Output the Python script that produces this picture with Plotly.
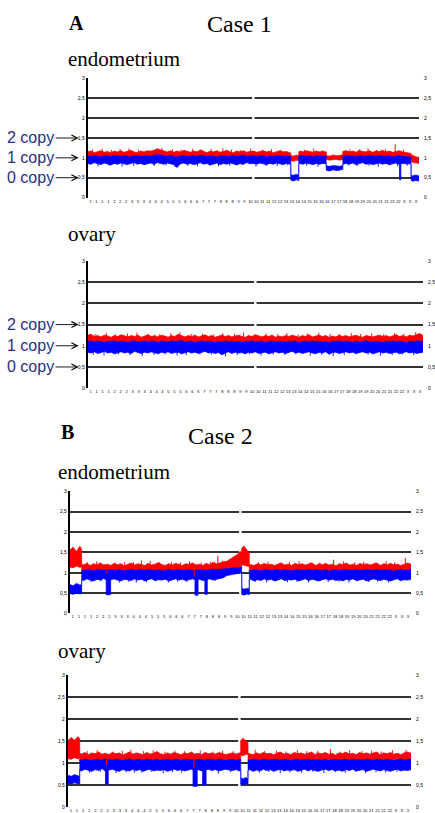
import plotly.graph_objects as go

RED = "#ff0000"
BLUE = "#0000ff"
LABEL_BLUE = "#27307e"
GRID = "#333333"
SERIF = "Liberation Serif"
SANS = "Liberation Sans"

# ---------------- tick labels ----------------
Y_TICKS = [0, 0.5, 1, 1.5, 2, 2.5, 3]
Y_TICK_TEXT = ["0", "0,5", "1", "1,5", "2", "2,5", "3"]
CHROM_TICK_TEXT = ["1", "1", "1", "1", "2", "2", "2", "3", "3", "3", "4", "4", "4", "5", "5",
                   "5", "6", "6", "6", "7", "7", "7", "8", "8", "8", "9", "9", "10", "10", "11",
                   "11", "12", "12", "13", "13", "14", "14", "15", "15", "16", "16", "17", "17",
                   "18", "18", "19", "19", "20", "20", "21", "21", "22", "22", "X", "X", "X"]
COPY_LABELS = ["2 copy", "1 copy", "0 copy"]
COPY_LEVELS = [1.5, 1.0, 0.5]

# ---------------- Case 1, endometrium ----------------
A1_x = (list(range(62)) + [61.3, 61.3, 62, 63, 63.7, 63.7] + list(range(64, 72))
        + [72, 72, 73, 74, 75, 76, 77, 77] + list(range(78, 98)) + [97.6, 97.6, 98, 99, 100])
A1_red_hi = [
    1.15, 1.17, 1.13, 1.16, 1.18, 1.14, 1.16, 1.13, 1.17, 1.15,
    1.18, 1.14, 1.16, 1.19, 1.15, 1.13, 1.17, 1.15, 1.18, 1.16,
    1.19, 1.23, 1.20, 1.17, 1.15, 1.18, 1.14, 1.17, 1.15, 1.19,
    1.16, 1.14, 1.17, 1.15, 1.20, 1.16, 1.13, 1.17, 1.15, 1.18,
    1.14, 1.16, 1.19, 1.15, 1.13, 1.17, 1.15, 1.18, 1.14, 1.16,
    1.17, 1.14, 1.16, 1.18, 1.15, 1.17, 1.13, 1.16, 1.18, 1.15,
    1.16, 1.13,
    1.12, 1.06, 1.04, 1.07, 1.05, 1.14,
    1.17, 1.15, 1.18, 1.16, 1.14, 1.17, 1.15, 1.16,
    1.15, 1.06, 1.04, 1.07, 1.05, 1.06, 1.08, 1.16,
    1.18, 1.15, 1.17, 1.14, 1.19, 1.16, 1.15, 1.18, 1.14, 1.17,
    1.16, 1.19, 1.15, 1.17, 1.14, 1.16, 1.18, 1.15, 1.13, 1.12,
    1.11, 1.08, 1.06, 1.03, 1.00]
A1_red_lo = [
    1.00, 1.01, 0.99, 1.00, 1.02, 1.00, 0.99, 1.01, 1.00, 1.00,
    1.01, 0.99, 1.00, 1.02, 1.00, 1.01, 0.99, 1.00, 1.01, 1.00,
    1.02, 1.04, 1.03, 1.00, 0.99, 1.01, 1.00, 1.00, 1.02, 0.99,
    1.00, 1.01, 1.00, 0.99, 1.02, 1.00, 1.01, 1.00, 0.99, 1.01,
    1.00, 1.02, 1.00, 0.99, 1.01, 1.00, 1.00, 1.02, 0.99, 1.00,
    1.01, 1.00, 0.99, 1.01, 1.00, 1.02, 1.00, 0.99, 1.01, 1.00,
    1.00, 1.01,
    1.00, 0.93, 0.91, 0.94, 0.92, 1.00,
    1.01, 0.99, 1.00, 1.02, 1.00, 0.99, 1.01, 1.00,
    1.00, 0.96, 0.94, 0.95, 0.96, 0.94, 0.95, 1.00,
    1.01, 0.99, 1.00, 1.02, 1.00, 0.99, 1.01, 1.00, 1.00, 1.02,
    0.99, 1.00, 1.01, 1.00, 0.99, 1.01, 1.00, 1.00, 0.99, 0.98,
    0.97, 0.90, 0.88, 0.87, 0.86]
A1_blue_hi = [
    1.05, 1.04, 1.06, 1.05, 1.03, 1.06, 1.05, 1.04, 1.06, 1.05,
    1.04, 1.06, 1.05, 1.03, 1.05, 1.06, 1.04, 1.05, 1.06, 1.04,
    1.06, 1.09, 1.08, 1.05, 1.04, 1.06, 1.05, 1.03, 1.05, 1.06,
    1.04, 1.05, 1.06, 1.04, 1.07, 1.05, 1.04, 1.06, 1.05, 1.03,
    1.05, 1.06, 1.04, 1.05, 1.06, 1.04, 1.05, 1.07, 1.04, 1.05,
    1.06, 1.04, 1.05, 1.06, 1.03, 1.05, 1.04, 1.06, 1.05, 1.04,
    1.05, 1.04,
    1.04, 0.58, 0.56, 0.59, 0.57, 1.04,
    1.05, 1.06, 1.04, 1.05, 1.03, 1.06, 1.05, 1.04,
    1.05, 0.80, 0.79, 0.81, 0.80, 0.79, 0.81, 1.05,
    1.06, 1.04, 1.05, 1.03, 1.06, 1.05, 1.04, 1.06, 1.05, 1.04,
    1.06, 1.05, 1.04, 1.06, 1.03, 1.05, 1.06, 1.04, 1.03, 1.02,
    1.02, 0.56, 0.55, 0.57, 0.55]
A1_blue_lo = [
    0.86, 0.84, 0.88, 0.85, 0.83, 0.87, 0.85, 0.82, 0.86, 0.84,
    0.87, 0.85, 0.83, 0.86, 0.88, 0.84, 0.86, 0.83, 0.85, 0.87,
    0.84, 0.88, 0.86, 0.84, 0.87, 0.85, 0.83, 0.76, 0.85, 0.87,
    0.84, 0.86, 0.83, 0.85, 0.88, 0.84, 0.86, 0.82, 0.85, 0.87,
    0.83, 0.86, 0.84, 0.87, 0.85, 0.82, 0.86, 0.84, 0.88, 0.85,
    0.86, 0.84, 0.87, 0.85, 0.83, 0.86, 0.84, 0.87, 0.85, 0.83,
    0.86, 0.85,
    0.84, 0.44, 0.42, 0.45, 0.43, 0.85,
    0.86, 0.84, 0.87, 0.85, 0.83, 0.86, 0.84, 0.86,
    0.85, 0.69, 0.67, 0.70, 0.68, 0.69, 0.71, 0.84,
    0.86, 0.84, 0.87, 0.83, 0.85, 0.88, 0.84, 0.86, 0.83, 0.85,
    0.87, 0.84, 0.86, 0.83, 0.85, 0.87, 0.84, 0.86, 0.85, 0.84,
    0.85, 0.44, 0.41, 0.43, 0.42]
A1_dip_start = [94.1]
A1_dip_end = [94.5]
A1_dip_low = [0.45]
A1_dip_high = [0.86]
A1_blue_spike_pos = []
A1_blue_spike_low = []
A1_red_spike_pos = [92.8]
A1_red_spike_lo = [1.12]
A1_red_spike_hi = [1.34]
A1_red_noise_pos = [1.5, 4.4, 7.2, 9.8, 12.5, 15.3, 18.9, 22.4, 25.6, 28.2, 31.7, 34.5, 37.3,
                    40.8, 43.4, 46.1, 49.2, 52.7, 55.5, 58.3, 65.4, 68.2, 70.8, 79.1, 81.9,
                    84.6, 87.2, 89.9, 95.3]
A1_red_noise_hi = [1.21, 1.23, 1.20, 1.22, 1.24, 1.21, 1.20, 1.25, 1.22, 1.21, 1.23, 1.20, 1.22,
                   1.24, 1.21, 1.20, 1.23, 1.21, 1.22, 1.20, 1.21, 1.23, 1.20, 1.22, 1.21,
                   1.24, 1.20, 1.22, 1.21]
A1_blue_noise_pos = [3.1, 6.6, 10.4, 13.9, 17.2, 20.1, 23.7, 26.4, 30.2, 33.1, 36.8, 39.5, 42.9,
                     46.6, 50.8, 53.9, 57.2, 60.4, 66.1, 69.5, 78.6, 81.3, 84.9, 87.7, 91.2,
                     93.5, 96.4]
A1_blue_noise_lo = [0.79, 0.81, 0.78, 0.80, 0.82, 0.79, 0.81, 0.77, 0.80, 0.78, 0.81, 0.79, 0.80,
                    0.82, 0.78, 0.80, 0.79, 0.81, 0.80, 0.78, 0.81, 0.79, 0.80, 0.78, 0.81,
                    0.79, 0.80]

# ---------------- Case 1, ovary ----------------
A2_x = list(range(101))
A2_red_hi = [
    1.25, 1.27, 1.22, 1.24, 1.21, 1.25, 1.23, 1.20, 1.24, 1.22,
    1.26, 1.23, 1.21, 1.24, 1.22, 1.25, 1.20, 1.23, 1.26, 1.22,
    1.24, 1.21, 1.25, 1.23, 1.20, 1.24, 1.22, 1.27, 1.23, 1.21,
    1.24, 1.22, 1.25, 1.21, 1.23, 1.26, 1.22, 1.24, 1.20, 1.23,
    1.25, 1.22, 1.24, 1.21, 1.23, 1.25, 1.22, 1.20, 1.24, 1.22,
    1.26, 1.23, 1.21, 1.24, 1.22, 1.25, 1.20, 1.23, 1.21, 1.24,
    1.22, 1.25, 1.23, 1.20, 1.24, 1.22, 1.26, 1.21, 1.23, 1.25,
    1.22, 1.24, 1.20, 1.23, 1.21, 1.25, 1.22, 1.24, 1.21, 1.23,
    1.25, 1.22, 1.20, 1.24, 1.22, 1.21, 1.23, 1.25, 1.22, 1.24,
    1.21, 1.23, 1.26, 1.22, 1.24, 1.21, 1.25, 1.23, 1.26, 1.29,
    1.24]
A2_red_lo = [
    1.04, 1.05, 1.03, 1.04, 1.06, 1.04, 1.03, 1.05, 1.04, 1.04,
    1.05, 1.03, 1.04, 1.06, 1.04, 1.05, 1.03, 1.04, 1.05, 1.04,
    1.06, 1.04, 1.03, 1.05, 1.04, 1.04, 1.06, 1.03, 1.04, 1.05,
    1.04, 1.03, 1.05, 1.04, 1.06, 1.04, 1.05, 1.03, 1.04, 1.05,
    1.04, 1.06, 1.04, 1.03, 1.05, 1.04, 1.04, 1.06, 1.03, 1.04,
    1.05, 1.04, 1.03, 1.05, 1.04, 1.06, 1.04, 1.03, 1.05, 1.04,
    1.04, 1.05, 1.03, 1.04, 1.06, 1.04, 1.03, 1.05, 1.04, 1.04,
    1.05, 1.03, 1.04, 1.06, 1.04, 1.05, 1.03, 1.04, 1.05, 1.04,
    1.06, 1.04, 1.03, 1.05, 1.04, 1.04, 1.06, 1.03, 1.04, 1.05,
    1.04, 1.03, 1.05, 1.04, 1.06, 1.04, 1.05, 1.03, 1.04, 1.05,
    1.04]
A2_blue_hi = [
    1.10, 1.12, 1.09, 1.11, 1.10, 1.08, 1.11, 1.10, 1.12, 1.09,
    1.11, 1.10, 1.08, 1.11, 1.12, 1.09, 1.10, 1.11, 1.09, 1.12,
    1.10, 1.08, 1.11, 1.10, 1.09, 1.12, 1.10, 1.11, 1.13, 1.09,
    1.10, 1.11, 1.08, 1.10, 1.12, 1.09, 1.11, 1.10, 1.08, 1.11,
    1.09, 1.12, 1.10, 1.11, 1.09, 1.10, 1.08, 1.11, 1.10, 1.12,
    1.09, 1.10, 1.11, 1.08, 1.10, 1.12, 1.09, 1.11, 1.10, 1.09,
    1.11, 1.10, 1.12, 1.08, 1.10, 1.11, 1.09, 1.12, 1.10, 1.11,
    1.09, 1.10, 1.08, 1.11, 1.10, 1.12, 1.09, 1.11, 1.10, 1.08,
    1.11, 1.09, 1.10, 1.12, 1.10, 1.09, 1.11, 1.10, 1.08, 1.11,
    1.10, 1.12, 1.09, 1.11, 1.10, 1.08, 1.11, 1.10, 1.12, 1.11,
    1.10]
A2_blue_lo = [
    0.85, 0.83, 0.86, 0.82, 0.84, 0.87, 0.83, 0.85, 0.81, 0.84,
    0.86, 0.83, 0.85, 0.82, 0.87, 0.84, 0.82, 0.85, 0.83, 0.86,
    0.84, 0.81, 0.85, 0.83, 0.86, 0.82, 0.84, 0.85, 0.81, 0.84,
    0.86, 0.83, 0.85, 0.82, 0.84, 0.87, 0.83, 0.85, 0.82, 0.84,
    0.79, 0.83, 0.86, 0.82, 0.85, 0.83, 0.84, 0.81, 0.85, 0.83,
    0.86, 0.82, 0.84, 0.85, 0.81, 0.84, 0.86, 0.83, 0.85, 0.82,
    0.84, 0.87, 0.83, 0.85, 0.82, 0.84, 0.86, 0.83, 0.81, 0.85,
    0.83, 0.86, 0.80, 0.84, 0.85, 0.82, 0.84, 0.86, 0.83, 0.85,
    0.82, 0.84, 0.86, 0.83, 0.85, 0.81, 0.84, 0.86, 0.83, 0.85,
    0.82, 0.84, 0.85, 0.81, 0.84, 0.86, 0.83, 0.85, 0.82, 0.84,
    0.85]
A2_dip_start = []
A2_dip_end = []
A2_dip_low = []
A2_dip_high = []
A2_blue_spike_pos = []
A2_blue_spike_low = []
A2_red_spike_pos = []
A2_red_spike_lo = []
A2_red_spike_hi = []
A2_red_noise_pos = [2.2, 5.6, 8.3, 11.9, 14.7, 18.1, 21.4, 24.8, 27.5, 30.9, 34.2, 37.6, 40.3,
                    43.8, 46.5, 49.9, 53.2, 56.7, 59.4, 62.8, 65.5, 68.9, 72.3, 75.1, 78.6,
                    81.4, 84.7, 88.2, 91.5, 94.3, 97.8]
A2_red_noise_hi = [1.28, 1.30, 1.27, 1.29, 1.31, 1.28, 1.27, 1.30, 1.32, 1.28, 1.29, 1.27, 1.30,
                   1.28, 1.31, 1.27, 1.29, 1.28, 1.30, 1.27, 1.29, 1.31, 1.28, 1.27, 1.30,
                   1.28, 1.29, 1.27, 1.30, 1.28, 1.32]
A2_blue_noise_pos = [1.7, 4.9, 9.2, 12.6, 16.3, 19.8, 23.1, 26.7, 29.4, 33.5, 36.9, 41.1, 44.6,
                     48.2, 51.7, 55.3, 58.8, 62.1, 66.4, 69.8, 73.2, 76.5, 80.1, 83.6, 87.3,
                     90.8, 93.9, 97.2]
A2_blue_noise_lo = [0.79, 0.77, 0.80, 0.78, 0.76, 0.79, 0.80, 0.77, 0.78, 0.80, 0.79, 0.75, 0.78,
                    0.80, 0.77, 0.79, 0.78, 0.80, 0.77, 0.79, 0.76, 0.78, 0.80, 0.79, 0.77,
                    0.78, 0.80, 0.78]

# ---------------- Case 2, endometrium ----------------
B1_x = (list(range(4)) + [3.5, 3.5] + list(range(4, 51))
        + [50.4, 50.4, 51, 52, 52.6, 52.6] + list(range(53, 101)))
B1_red_hi = [
    1.55, 1.63, 1.52, 1.65, 1.58,
    1.21, 1.19, 1.23, 1.18, 1.22, 1.20, 1.24, 1.19, 1.21, 1.18,
    1.23, 1.20, 1.22, 1.17, 1.21, 1.24, 1.19, 1.22, 1.20, 1.18,
    1.23, 1.19, 1.21, 1.25, 1.20, 1.18, 1.22, 1.19, 1.23, 1.21,
    1.18, 1.22, 1.20, 1.24, 1.19, 1.21, 1.18, 1.23, 1.20, 1.26,
    1.22, 1.24, 1.27,
    1.28, 1.33, 1.37, 1.44, 1.52,
    1.50,
    1.60, 1.66, 1.55, 1.50,
    1.22, 1.20, 1.18, 1.22, 1.19, 1.23, 1.20, 1.21, 1.18, 1.22,
    1.24, 1.19, 1.21, 1.18, 1.23, 1.20, 1.22, 1.19, 1.21, 1.24,
    1.18, 1.22, 1.20, 1.23, 1.19, 1.21, 1.17, 1.22, 1.20, 1.24,
    1.19, 1.21, 1.18, 1.23, 1.20, 1.22, 1.19, 1.21, 1.24, 1.18,
    1.22, 1.20, 1.23, 1.19, 1.21, 1.18, 1.22, 1.24, 1.21]
B1_red_lo = [
    1.14, 1.12, 1.16, 1.13, 1.14,
    1.02, 1.03, 1.01, 1.02, 1.04, 1.02, 1.01, 1.03, 1.02, 1.02,
    1.03, 1.01, 1.02, 1.04, 1.02, 1.03, 1.01, 1.02, 1.03, 1.02,
    1.04, 1.02, 1.01, 1.03, 1.02, 1.02, 1.04, 1.01, 1.02, 1.03,
    1.02, 1.01, 1.03, 1.02, 1.04, 1.02, 1.03, 1.02, 1.04, 1.05,
    1.05, 1.06, 1.07,
    1.08, 1.10, 1.12, 1.14, 1.15,
    1.15,
    1.20, 1.18, 1.16, 1.15,
    1.02, 1.03, 1.01, 1.02, 1.04, 1.02, 1.01, 1.03, 1.02, 1.02,
    1.03, 1.01, 1.02, 1.04, 1.02, 1.03, 1.01, 1.02, 1.03, 1.02,
    1.04, 1.02, 1.01, 1.03, 1.02, 1.02, 1.04, 1.01, 1.02, 1.03,
    1.02, 1.01, 1.03, 1.02, 1.04, 1.02, 1.03, 1.02, 1.01, 1.03,
    1.02, 1.04, 1.02, 1.01, 1.03, 1.02, 1.02, 1.03, 1.02]
B1_blue_hi = [
    0.72, 0.68, 0.74, 0.70, 0.71,
    1.07, 1.06, 1.08, 1.07, 1.05, 1.08, 1.07, 1.06, 1.08, 1.07,
    1.06, 1.08, 1.07, 1.05, 1.07, 1.08, 1.06, 1.07, 1.08, 1.06,
    1.08, 1.07, 1.06, 1.08, 1.05, 1.07, 1.08, 1.06, 1.07, 1.08,
    1.06, 1.07, 1.08, 1.06, 1.07, 1.08, 1.07, 1.06, 1.08, 1.09,
    1.08, 1.09, 1.10,
    1.10, 1.12, 1.13, 1.14, 1.15,
    1.14,
    0.63, 0.60, 0.62, 0.61,
    1.07, 1.06, 1.08, 1.07, 1.05, 1.08, 1.07, 1.06, 1.08, 1.07,
    1.06, 1.08, 1.07, 1.05, 1.07, 1.08, 1.06, 1.07, 1.08, 1.06,
    1.08, 1.07, 1.06, 1.08, 1.05, 1.07, 1.08, 1.06, 1.07, 1.08,
    1.06, 1.07, 1.08, 1.06, 1.07, 1.08, 1.07, 1.06, 1.08, 1.07,
    1.06, 1.08, 1.07, 1.05, 1.07, 1.08, 1.06, 1.07, 1.08]
B1_blue_lo = [
    0.49, 0.47, 0.50, 0.48, 0.49,
    0.83, 0.81, 0.85, 0.82, 0.80, 0.84, 0.82, 0.86, 0.81, 0.83,
    0.85, 0.82, 0.80, 0.84, 0.83, 0.81, 0.85, 0.82, 0.84, 0.80,
    0.83, 0.85, 0.81, 0.83, 0.82, 0.84, 0.80, 0.83, 0.85, 0.82,
    0.84, 0.81, 0.83, 0.85, 0.82, 0.84, 0.81, 0.83, 0.85, 0.82,
    0.84, 0.86, 0.88,
    0.93, 0.95, 0.97, 0.98, 0.99,
    0.98,
    0.47, 0.45, 0.48, 0.46,
    0.82, 0.84, 0.80, 0.83, 0.81, 0.85, 0.82, 0.84, 0.80, 0.83,
    0.85, 0.81, 0.83, 0.82, 0.84, 0.80, 0.83, 0.85, 0.81, 0.84,
    0.82, 0.80, 0.83, 0.85, 0.82, 0.84, 0.81, 0.83, 0.80, 0.84,
    0.82, 0.85, 0.81, 0.83, 0.84, 0.80, 0.82, 0.85, 0.83, 0.81,
    0.84, 0.82, 0.80, 0.83, 0.85, 0.81, 0.83, 0.82, 0.84]
B1_dip_start = [10.7, 36.7, 39.6]
B1_dip_end = [12.0, 37.6, 40.3]
B1_dip_low = [0.46, 0.45, 0.47]
B1_dip_high = [0.86, 0.86, 0.86]
B1_blue_spike_pos = [19.5]
B1_blue_spike_low = [0.76]
B1_red_spike_pos = [10.9, 21.0, 36.5, 43.4, 77.3, 98.3]
B1_red_spike_lo = [0.98, 1.18, 0.90, 1.20, 1.20, 1.20]
B1_red_spike_hi = [1.15, 1.30, 1.10, 1.42, 1.32, 1.36]
B1_red_noise_pos = [5.2, 7.9, 13.4, 16.1, 18.7, 23.6, 26.3, 29.8, 32.4, 35.1, 38.5, 41.2, 44.8,
                    55.3, 58.1, 61.6, 64.4, 67.2, 70.5, 73.3, 80.2, 83.5, 86.1, 89.4, 92.7, 95.2]
B1_red_noise_hi = [1.26, 1.28, 1.25, 1.27, 1.26, 1.29, 1.25, 1.27, 1.26, 1.28, 1.25, 1.27, 1.30,
                   1.26, 1.28, 1.25, 1.27, 1.29, 1.26, 1.25, 1.28, 1.26, 1.27, 1.25, 1.28, 1.26]
B1_blue_noise_pos = [6.3, 9.1, 14.6, 17.3, 22.5, 25.2, 28.9, 31.6, 34.3, 42.6, 54.4, 57.7, 60.5,
                     63.8, 66.6, 69.9, 72.4, 75.7, 78.9, 81.8, 84.3, 87.6, 90.2, 93.4, 96.8]
B1_blue_noise_lo = [0.77, 0.79, 0.76, 0.78, 0.77, 0.79, 0.76, 0.78, 0.77, 0.80, 0.78, 0.76, 0.79,
                    0.77, 0.78, 0.76, 0.79, 0.77, 0.78, 0.76, 0.79, 0.77, 0.78, 0.76, 0.79]

# ---------------- Case 2, ovary ----------------
B2_x = (list(range(4)) + [3.5, 3.5] + list(range(4, 51))
        + [50.4, 50.4, 51, 52, 52.5, 52.5] + list(range(53, 101)))
B2_red_hi = [
    1.50, 1.58, 1.52, 1.60, 1.55,
    1.22, 1.20, 1.24, 1.19, 1.23, 1.21, 1.25, 1.20, 1.22, 1.19,
    1.24, 1.21, 1.23, 1.18, 1.22, 1.25, 1.20, 1.23, 1.21, 1.19,
    1.24, 1.20, 1.22, 1.26, 1.21, 1.19, 1.23, 1.20, 1.24, 1.22,
    1.19, 1.23, 1.21, 1.25, 1.20, 1.22, 1.19, 1.24, 1.21, 1.23,
    1.20, 1.24, 1.22, 1.19, 1.21, 1.23, 1.20, 1.22, 1.24,
    1.50, 1.56, 1.50, 1.46,
    1.23, 1.21, 1.19, 1.23, 1.20, 1.24, 1.21, 1.22, 1.19, 1.23,
    1.25, 1.20, 1.22, 1.19, 1.24, 1.21, 1.23, 1.20, 1.22, 1.25,
    1.19, 1.23, 1.21, 1.24, 1.20, 1.22, 1.18, 1.23, 1.21, 1.25,
    1.20, 1.22, 1.19, 1.24, 1.21, 1.23, 1.20, 1.22, 1.25, 1.19,
    1.23, 1.21, 1.24, 1.20, 1.22, 1.19, 1.23, 1.25, 1.22]
B2_red_lo = [
    1.10, 1.08, 1.12, 1.09, 1.10,
    1.04, 1.05, 1.03, 1.04, 1.06, 1.04, 1.03, 1.05, 1.04, 1.04,
    1.05, 1.03, 1.04, 1.06, 1.04, 1.05, 1.03, 1.04, 1.05, 1.04,
    1.06, 1.04, 1.03, 1.05, 1.04, 1.04, 1.06, 1.03, 1.04, 1.05,
    1.04, 1.03, 1.05, 1.04, 1.06, 1.04, 1.05, 1.03, 1.04, 1.05,
    1.04, 1.06, 1.04, 1.03, 1.05, 1.04, 1.05, 1.03, 1.04,
    1.18, 1.16, 1.20, 1.18,
    1.04, 1.05, 1.03, 1.04, 1.06, 1.04, 1.03, 1.05, 1.04, 1.04,
    1.05, 1.03, 1.04, 1.06, 1.04, 1.05, 1.03, 1.04, 1.05, 1.04,
    1.06, 1.04, 1.03, 1.05, 1.04, 1.04, 1.06, 1.03, 1.04, 1.05,
    1.04, 1.03, 1.05, 1.04, 1.06, 1.04, 1.05, 1.03, 1.04, 1.05,
    1.04, 1.06, 1.04, 1.03, 1.05, 1.04, 1.04, 1.05, 1.04]
B2_blue_hi = [
    0.73, 0.70, 0.74, 0.71, 0.70,
    1.08, 1.07, 1.09, 1.08, 1.06, 1.09, 1.08, 1.07, 1.09, 1.08,
    1.07, 1.09, 1.08, 1.06, 1.08, 1.09, 1.07, 1.08, 1.09, 1.07,
    1.09, 1.08, 1.07, 1.09, 1.06, 1.08, 1.09, 1.07, 1.08, 1.09,
    1.07, 1.08, 1.09, 1.07, 1.08, 1.09, 1.08, 1.07, 1.09, 1.08,
    1.07, 1.09, 1.08, 1.06, 1.08, 1.09, 1.07, 1.08, 1.09,
    0.66, 0.65, 0.67, 0.64,
    1.08, 1.07, 1.09, 1.08, 1.06, 1.09, 1.08, 1.07, 1.09, 1.08,
    1.07, 1.09, 1.08, 1.06, 1.08, 1.09, 1.07, 1.08, 1.09, 1.07,
    1.09, 1.08, 1.07, 1.09, 1.06, 1.08, 1.09, 1.07, 1.08, 1.09,
    1.07, 1.08, 1.09, 1.07, 1.08, 1.09, 1.08, 1.07, 1.09, 1.08,
    1.07, 1.09, 1.08, 1.06, 1.08, 1.09, 1.07, 1.08, 1.09]
B2_blue_lo = [
    0.54, 0.52, 0.55, 0.53, 0.52,
    0.84, 0.82, 0.86, 0.83, 0.81, 0.85, 0.83, 0.87, 0.82, 0.84,
    0.86, 0.83, 0.81, 0.85, 0.84, 0.82, 0.86, 0.83, 0.85, 0.81,
    0.84, 0.86, 0.82, 0.84, 0.83, 0.85, 0.81, 0.84, 0.86, 0.83,
    0.85, 0.82, 0.84, 0.86, 0.83, 0.85, 0.82, 0.84, 0.86, 0.83,
    0.85, 0.82, 0.84, 0.86, 0.84, 0.83, 0.85, 0.82, 0.84,
    0.52, 0.51, 0.53, 0.52,
    0.83, 0.85, 0.81, 0.84, 0.82, 0.86, 0.83, 0.85, 0.81, 0.84,
    0.86, 0.82, 0.84, 0.83, 0.85, 0.81, 0.84, 0.86, 0.82, 0.85,
    0.83, 0.81, 0.84, 0.86, 0.83, 0.85, 0.82, 0.84, 0.81, 0.85,
    0.83, 0.86, 0.82, 0.84, 0.85, 0.81, 0.83, 0.86, 0.84, 0.82,
    0.85, 0.83, 0.81, 0.84, 0.86, 0.82, 0.84, 0.83, 0.85]
B2_dip_start = [11.0, 36.5, 39.3]
B2_dip_end = [11.8, 37.7, 40.3]
B2_dip_low = [0.52, 0.47, 0.50]
B2_dip_high = [0.86, 0.86, 0.86]
B2_blue_spike_pos = [19.4]
B2_blue_spike_low = [0.78]
B2_red_spike_pos = [11.3, 36.8, 76.5, 98.5]
B2_red_spike_lo = [0.95, 0.88, 1.20, 1.20]
B2_red_spike_hi = [1.10, 1.10, 1.32, 1.30]
B2_red_noise_pos = [5.7, 8.6, 13.2, 15.9, 18.4, 22.1, 24.9, 28.3, 31.2, 34.0, 38.6, 42.3, 45.1,
                    48.2, 54.6, 57.3, 60.8, 63.5, 66.9, 69.6, 72.8, 79.4, 82.1, 85.7, 88.5,
                    91.3, 94.6]
B2_red_noise_hi = [1.27, 1.29, 1.26, 1.28, 1.30, 1.27, 1.29, 1.26, 1.28, 1.27, 1.29, 1.26, 1.28,
                   1.27, 1.30, 1.27, 1.28, 1.26, 1.29, 1.27, 1.28, 1.26, 1.29, 1.27, 1.28,
                   1.26, 1.29]
B2_blue_noise_pos = [6.4, 9.5, 14.1, 17.0, 21.6, 24.3, 27.8, 30.5, 33.2, 43.9, 47.5, 55.8, 58.6,
                     61.9, 64.7, 68.1, 71.4, 74.6, 77.9, 80.8, 83.9, 86.7, 89.8, 92.6, 95.9]
B2_blue_noise_lo = [0.78, 0.80, 0.77, 0.79, 0.78, 0.80, 0.77, 0.79, 0.78, 0.76, 0.79, 0.78, 0.80,
                    0.77, 0.79, 0.78, 0.80, 0.77, 0.79, 0.78, 0.80, 0.77, 0.79, 0.78, 0.80]

# ---------------- layout of the four panels (pixel boxes) ----------------
W, H = 435, 813
panels = [
    dict(x=A1_x, rh=A1_red_hi, rl=A1_red_lo, bh=A1_blue_hi, bl=A1_blue_lo,
         ds=A1_dip_start, de=A1_dip_end, dl=A1_dip_low, dh=A1_dip_high,
         bsp=A1_blue_spike_pos, bsl=A1_blue_spike_low,
         rsp=A1_red_spike_pos, rsl=A1_red_spike_lo, rsh=A1_red_spike_hi,
         rnp=A1_red_noise_pos, rnh=A1_red_noise_hi, bnp=A1_blue_noise_pos, bnl=A1_blue_noise_lo,
         px=(88, 421), py=(76, 196), copy=True),
    dict(x=A2_x, rh=A2_red_hi, rl=A2_red_lo, bh=A2_blue_hi, bl=A2_blue_lo,
         ds=A2_dip_start, de=A2_dip_end, dl=A2_dip_low, dh=A2_dip_high,
         bsp=A2_blue_spike_pos, bsl=A2_blue_spike_low,
         rsp=A2_red_spike_pos, rsl=A2_red_spike_lo, rsh=A2_red_spike_hi,
         rnp=A2_red_noise_pos, rnh=A2_red_noise_hi, bnp=A2_blue_noise_pos, bnl=A2_blue_noise_lo,
         px=(88, 425), py=(260, 388), copy=True),
    dict(x=B1_x, rh=B1_red_hi, rl=B1_red_lo, bh=B1_blue_hi, bl=B1_blue_lo,
         ds=B1_dip_start, de=B1_dip_end, dl=B1_dip_low, dh=B1_dip_high,
         bsp=B1_blue_spike_pos, bsl=B1_blue_spike_low,
         rsp=B1_red_spike_pos, rsl=B1_red_spike_lo, rsh=B1_red_spike_hi,
         rnp=B1_red_noise_pos, rnh=B1_red_noise_hi, bnp=B1_blue_noise_pos, bnl=B1_blue_noise_lo,
         px=(70, 413), py=(492, 615), copy=False),
    dict(x=B2_x, rh=B2_red_hi, rl=B2_red_lo, bh=B2_blue_hi, bl=B2_blue_lo,
         ds=B2_dip_start, de=B2_dip_end, dl=B2_dip_low, dh=B2_dip_high,
         bsp=B2_blue_spike_pos, bsl=B2_blue_spike_low,
         rsp=B2_red_spike_pos, rsl=B2_red_spike_lo, rsh=B2_red_spike_hi,
         rnp=B2_red_noise_pos, rnh=B2_red_noise_hi, bnp=B2_blue_noise_pos, bnl=B2_blue_noise_lo,
         px=(68, 413), py=(677, 810), copy=False),
]

for p in panels:
    n = len(p["x"])
    assert all(len(p[k]) == n for k in ("rh", "rl", "bh", "bl"))
    assert len(p["rnp"]) == len(p["rnh"]) and len(p["bnp"]) == len(p["bnl"])


def vlines(pos, lo, hi):
    xs, ys = [], []
    for p_, a, b in zip(pos, lo, hi):
        xs += [p_, p_, None]
        ys += [a, b, None]
    return xs, ys


fig = go.Figure()
chrom_tickvals = [(i + 0.5) * 100.0 / len(CHROM_TICK_TEXT) for i in range(len(CHROM_TICK_TEXT))]
layout_axes = {}
shapes = []
annotations = []

for i, p in enumerate(panels, start=1):
    xa = "x" if i == 1 else f"x{i}"
    ya = "y" if i == 1 else f"y{i}"
    yr = f"y{i + 4}"
    common = dict(xaxis=xa, yaxis=ya, hoverinfo="skip", showlegend=False)
    # red (upper) signal band
    fig.add_trace(go.Scatter(x=p["x"], y=p["rh"], mode="lines",
                             line=dict(color=RED, width=0.8), **common))
    fig.add_trace(go.Scatter(x=p["x"], y=p["rl"], mode="lines", fill="tonexty", fillcolor=RED,
                             line=dict(color=RED, width=0.5), **common))
    nx, ny = vlines(p["rnp"], [1.1] * len(p["rnp"]), p["rnh"])
    fig.add_trace(go.Scatter(x=nx, y=ny, mode="lines", line=dict(color=RED, width=0.9), **common))
    # blue (lower) signal band
    fig.add_trace(go.Scatter(x=p["x"], y=p["bh"], mode="lines",
                             line=dict(color=BLUE, width=0.5), **common))
    fig.add_trace(go.Scatter(x=p["x"], y=p["bl"], mode="lines", fill="tonexty", fillcolor=BLUE,
                             line=dict(color=BLUE, width=0.8), **common))
    nx, ny = vlines(p["bnp"], p["bnl"], [0.95] * len(p["bnp"]))
    fig.add_trace(go.Scatter(x=nx, y=ny, mode="lines", line=dict(color=BLUE, width=0.9), **common))
    # narrow losses (blue drops)
    if p["ds"]:
        dx, dy = [], []
        for s, e, lo, hi in zip(p["ds"], p["de"], p["dl"], p["dh"]):
            dx += [s, e, e, s, s, None]
            dy += [lo, lo, hi, hi, lo, None]
        fig.add_trace(go.Scatter(x=dx, y=dy, mode="lines", fill="toself", fillcolor=BLUE,
                                 line=dict(color=BLUE, width=0.8), **common))
    if p["bsp"]:
        sx, sy = vlines(p["bsp"], p["bsl"], [0.9] * len(p["bsp"]))
        fig.add_trace(go.Scatter(x=sx, y=sy, mode="lines", line=dict(color=BLUE, width=1), **common))
    if p["rsp"]:
        sx, sy = vlines(p["rsp"], p["rsl"], p["rsh"])
        fig.add_trace(go.Scatter(x=sx, y=sy, mode="lines", line=dict(color=RED, width=1), **common))
    # invisible anchor point for the right-hand tick axis
    fig.add_trace(go.Scatter(x=[0], y=[0], mode="markers", marker=dict(opacity=0),
                             xaxis=xa, yaxis=yr, hoverinfo="skip", showlegend=False))

    xdom = [p["px"][0] / W, p["px"][1] / W]
    ydom = [1 - p["py"][1] / H, 1 - p["py"][0] / H]
    key = "" if i == 1 else str(i)
    layout_axes[f"xaxis{key}"] = dict(
        domain=xdom, anchor=ya, range=[0, 100], showgrid=False, zeroline=False, showline=False,
        tickmode="array", tickvals=chrom_tickvals, ticktext=CHROM_TICK_TEXT, tickangle=0,
        tickfont=dict(family=SANS, size=4, color="black"), ticks="", fixedrange=True)
    layout_axes[f"yaxis{key}"] = dict(
        domain=ydom, anchor=xa, range=[0, 3], tickmode="array", tickvals=Y_TICKS,
        ticktext=Y_TICK_TEXT, showgrid=True, gridcolor=GRID, gridwidth=1.9, zeroline=False,
        showline=True, linecolor="black", linewidth=1.8, ticks="",
        tickfont=dict(family=SANS, size=5, color="black"), fixedrange=True)
    layout_axes[f"yaxis{i + 4}"] = dict(
        overlaying=ya, side="right", anchor=xa, range=[0, 3], tickmode="array",
        tickvals=Y_TICKS, ticktext=Y_TICK_TEXT, showgrid=False, zeroline=False,
        showline=False, ticks="", ticklabelstandoff=4,
        tickfont=dict(family=SANS, size=5, color="black"), fixedrange=True)
    # small break in the grid lines where the two array halves meet
    shapes.append(dict(type="line", xref=xa, yref=ya, x0=50, x1=50, y0=0, y1=3,
                       line=dict(color="white", width=2.5), layer="between"))
    if p["copy"]:
        for lab, lev in zip(COPY_LABELS, COPY_LEVELS):
            annotations.append(dict(
                text=lab, xref="paper", yref=ya, x=79 / W, y=lev, showarrow=True,
                ax=-23, ay=0, xanchor="right", arrowhead=5, arrowsize=1.3, arrowwidth=0.9,
                arrowcolor="black", font=dict(family=SANS, size=16, color=LABEL_BLUE)))


def txt(text, px, py, size, bold=False, anchor="left"):
    annotations.append(dict(
        text=f"<b>{text}</b>" if bold else text, xref="paper", yref="paper",
        x=px / W, y=1 - py / H, xanchor=anchor, yanchor="middle", showarrow=False,
        font=dict(family=SERIF, size=size, color="black")))


txt("A", 67, 20, 20, bold=True)
txt("Case 1", 241, 21, 24, anchor="center")
txt("endometrium", 66, 56, 21)
txt("ovary", 66, 233, 21)
txt("B", 59, 432, 20, bold=True)
txt("Case 2", 222, 436, 24, anchor="center")
txt("endometrium", 56, 472, 21)
txt("ovary", 56, 653, 21)

fig.update_layout(
    width=W, height=H, autosize=False, margin=dict(l=0, r=0, t=0, b=0, pad=0),
    paper_bgcolor="white", plot_bgcolor="white", showlegend=False,
    shapes=shapes, annotations=annotations, **layout_axes)

fig.write_html("out.html", config={"displayModeBar": False, "staticPlot": True},
               post_script="document.body.style.margin='0';")
